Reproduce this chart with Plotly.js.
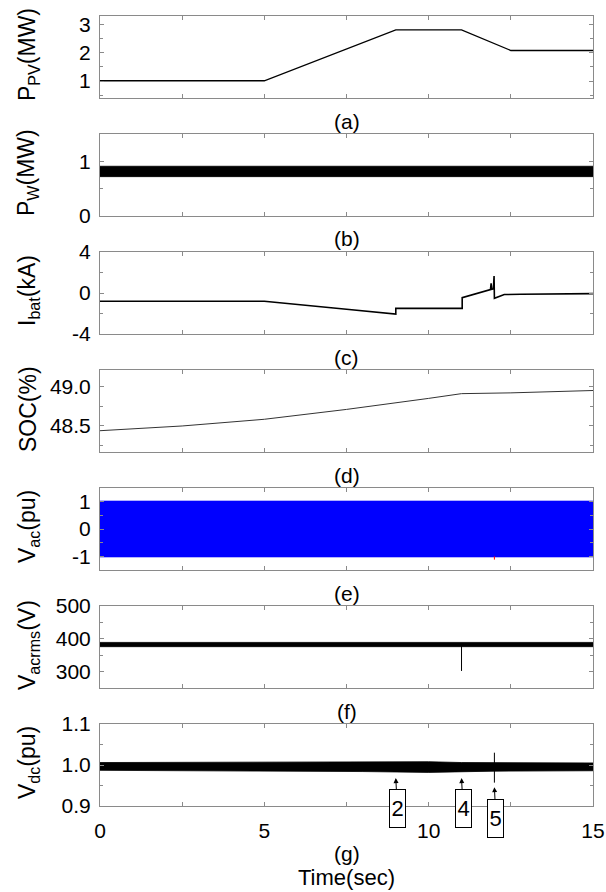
<!DOCTYPE html>
<html>
<head>
<meta charset="utf-8">
<script src="https://cdn.plot.ly/plotly-3.0.1.min.js"></script>
<style>html,body{margin:0;padding:0;background:#fff;}#chart{width:606px;height:892px;}</style>
</head>
<body>
<div id="chart"></div>
<script>
// ---------------- data ----------------
// (a) PV power
const tPV = [0, 5, 9, 11, 12.5, 15];
const pPV = [1.01, 1.01, 2.81, 2.81, 2.08, 2.08];
// (b) wind power: envelope of the noisy band
const tPW = [0, 5, 10, 15];
const pWUpper = [0.91, 0.91, 0.91, 0.91];
const pWLower = [0.72, 0.72, 0.72, 0.72];
// (c) battery current
const tBat = [0, 5, 7.5, 9.0, 9.0, 11.02, 11.02, 11.88, 11.9, 11.92, 11.97, 11.99, 12.0, 12.3, 12.8, 15];
const iBat = [-0.81, -0.81, -1.58, -2.06, -1.5, -1.5, -0.46, 0.33, 0.95, 0.36, 0.4, 1.66, -0.52, -0.15, -0.12, -0.06];
// (d) state of charge
const tSOC = [0, 2.5, 5, 7.5, 10, 11, 12.5, 15];
const soc = [48.44, 48.5, 48.585, 48.71, 48.85, 48.91, 48.92, 48.95];
// (e) AC voltage envelope
const tVac = [0, 15];
const vacUpper = [1.02, 1.02];
const vacLower = [-1.02, -1.02];
const tVacSpike = [12.0, 12.0];
const vacSpike = [-1.0, -1.12];
// (f) AC rms voltage envelope
const tRms = [0, 5, 10, 15];
const rmsUpper = [389, 389, 389, 389];
const rmsLower = [376, 376, 376, 376];
const tRmsSpike = [11.0, 11.0];
const rmsSpike = [380, 302];
// (g) DC voltage envelope
const tDc = [0, 5, 8, 10, 11, 12, 15];
const dcUpper = [1.006, 1.007, 1.008, 1.008, 1.006, 1.006, 1.005];
const dcLower = [0.987, 0.986, 0.984, 0.982, 0.984, 0.985, 0.986];
const tDcSpike = [12.0, 12.0];
const dcSpike = [1.030, 0.957];
// event markers on (g)
const eventTimes = [9.0, 11.0, 12.0];
const eventLabels = ['2', '4', '5'];
const eventTips = [0.968, 0.968, 0.946];

// axis ticks
const xTickVals = [0, 5, 10, 15];
const xTickText = ['0', '5', '10', '15'];
const xMinorStep = 2.5;
const yTicks = [
  {vals: [1, 2, 3], text: ['1', '2', '3'], minor: 0.5, range: [0.4, 3.3]},
  {vals: [0, 1], text: ['0', '1'], minor: 0.5, range: [0, 1.5]},
  {vals: [-4, 0, 4], text: ['-4', '0', '4'], minor: 2, range: [-4, 4]},
  {vals: [48.5, 49.0], text: ['48.5', '49.0'], minor: 0.25, range: [48.17, 49.21]},
  {vals: [-1, 0, 1], text: ['-1', '0', '1'], minor: 0.5, range: [-1.5, 1.5]},
  {vals: [300, 400, 500], text: ['300', '400', '500'], minor: 50, range: [250, 500]},
  {vals: [0.9, 1.0, 1.1], text: ['0.9', '1.0', '1.1'], minor: 0.05, range: [0.9, 1.1]}
];
const yTitles = ['P<sub>PV</sub>(MW)', 'P<sub>W</sub>(MW)', 'I<sub>bat</sub>(kA)', 'SOC(%)',
                 'V<sub>ac</sub>(pu)', 'V<sub>acrms</sub>(V)', 'V<sub>dc</sub>(pu)'];
const panelLabels = ['(a)', '(b)', '(c)', '(d)', '(e)', '(f)', '(g)'];

// ---------------- layout geometry ----------------
const W = 606, H = 892;
const mL = 100, mR = 13, mT = 16, mB = 86;
const plotH = H - mT - mB;          // 790
const panelH = 82, pitch = 118;
const FONT = 'Arial, "Liberation Sans", sans-serif';
const axisGray = '#8a8a8a';

function yPaper(px) { return (H - mB - px) / plotH; }

const traces = [];
const layout = {
  width: W, height: H,
  margin: {l: mL, r: mR, t: mT, b: mB},
  paper_bgcolor: '#fff', plot_bgcolor: '#fff',
  showlegend: false,
  font: {family: FONT, color: '#000', size: 21},
  annotations: []
};

for (let i = 0; i < 7; i++) {
  const n = i + 1;
  const top = mT + pitch * i;
  const bot = top + panelH;
  const xa = 'xaxis' + (n === 1 ? '' : n);
  const ya = 'yaxis' + (n === 1 ? '' : n);
  layout[xa] = {
    domain: [0, 1], range: [0, 15], anchor: 'y' + (n === 1 ? '' : n),
    tickmode: 'array', tickvals: xTickVals, ticktext: xTickText,
    showticklabels: i === 6, ticks: 'inside', ticklen: 4, tickcolor: axisGray,
    minor: {tickmode: 'linear', tick0: 0, dtick: xMinorStep, ticks: 'inside', ticklen: 4, tickcolor: axisGray},
    showline: true, linecolor: axisGray, linewidth: 1, mirror: 'ticks',
    showgrid: false, zeroline: false, fixedrange: true,
    tickfont: {family: FONT, size: 21, color: '#000'}, ticklabelstandoff: 6
  };
  layout[ya] = {
    domain: [yPaper(bot), yPaper(top)], range: yTicks[i].range, anchor: 'x' + (n === 1 ? '' : n),
    tickmode: 'array', tickvals: yTicks[i].vals, ticktext: yTicks[i].text,
    ticks: 'inside', ticklen: 4, tickcolor: axisGray,
    minor: {tickmode: 'linear', tick0: 0, dtick: yTicks[i].minor, ticks: 'inside', ticklen: 3, tickcolor: axisGray},
    showline: true, linecolor: axisGray, linewidth: 1, mirror: 'ticks',
    showgrid: false, zeroline: false, fixedrange: true,
    tickfont: {family: FONT, size: 21, color: '#000'}, ticklabelstandoff: 4
  };
  // y title (rotated)
  layout.annotations.push({
    xref: 'paper', yref: 'paper', x: (28 - mL) / (W - mL - mR), y: yPaper(top + panelH / 2 - 2),
    xanchor: 'center', yanchor: 'middle', textangle: -90, showarrow: false,
    text: yTitles[i], font: {family: FONT, size: 23, color: '#000'}
  });
  // panel label
  const labY = i === 6 ? 853 : bot + 23;
  layout.annotations.push({
    xref: 'paper', yref: 'paper', x: 0.5, y: yPaper(labY),
    xanchor: 'center', yanchor: 'middle', showarrow: false,
    text: panelLabels[i], font: {family: FONT, size: 21, color: '#000'}
  });
}
layout.annotations.push({
  xref: 'paper', yref: 'paper', x: 0.5, y: yPaper(877),
  xanchor: 'center', yanchor: 'middle', showarrow: false,
  text: 'Time(sec)', font: {family: FONT, size: 22, color: '#000'}
});

// event boxes with arrows on (g)
const eventAy = [30.5, 30, 31.5];
for (let k = 0; k < eventTimes.length; k++) {
  layout.annotations.push({
    xref: 'x7', yref: 'y7', x: eventTimes[k], y: eventTips[k],
    text: eventLabels[k], showarrow: true, ax: 1.5, ay: eventAy[k],
    arrowhead: 2, arrowsize: 1, arrowwidth: 1, arrowcolor: '#000', standoff: 0,
    bordercolor: '#000', borderwidth: 1, borderpad: 1, bgcolor: '#fff',
    width: 13, height: 35, align: 'center', valign: 'middle',
    font: {family: FONT, size: 22, color: '#000'}
  });
}

function band(x, lo, hi, axisN, color) {
  const xr = 'x' + (axisN === 1 ? '' : axisN), yr = 'y' + (axisN === 1 ? '' : axisN);
  traces.push({x: x, y: lo, xaxis: xr, yaxis: yr, type: 'scatter', mode: 'lines',
               line: {color: color, width: 0.8}, hoverinfo: 'skip'});
  traces.push({x: x, y: hi, xaxis: xr, yaxis: yr, type: 'scatter', mode: 'lines',
               line: {color: color, width: 0.8}, fill: 'tonexty', fillcolor: color, hoverinfo: 'skip'});
}
function line(x, y, axisN, color, width) {
  traces.push({x: x, y: y, xaxis: 'x' + (axisN === 1 ? '' : axisN), yaxis: 'y' + (axisN === 1 ? '' : axisN),
               type: 'scatter', mode: 'lines', line: {color: color, width: width}, hoverinfo: 'skip'});
}

line(tPV, pPV, 1, '#000', 1.3);
band(tPW, pWLower, pWUpper, 2, '#000');
line(tBat, iBat, 3, '#000', 1.6);
line(tSOC, soc, 4, '#333', 1);
band(tVac, vacLower, vacUpper, 5, '#0000ff');
line(tVacSpike, vacSpike, 5, '#ff0000', 1);
band(tRms, rmsLower, rmsUpper, 6, '#000');
line(tRmsSpike, rmsSpike, 6, '#000', 1);
band(tDc, dcLower, dcUpper, 7, '#000');
line(tDcSpike, dcSpike, 7, '#000', 1);

Plotly.newPlot('chart', traces, layout, {staticPlot: true, displayModeBar: false});
</script>
</body>
</html>
